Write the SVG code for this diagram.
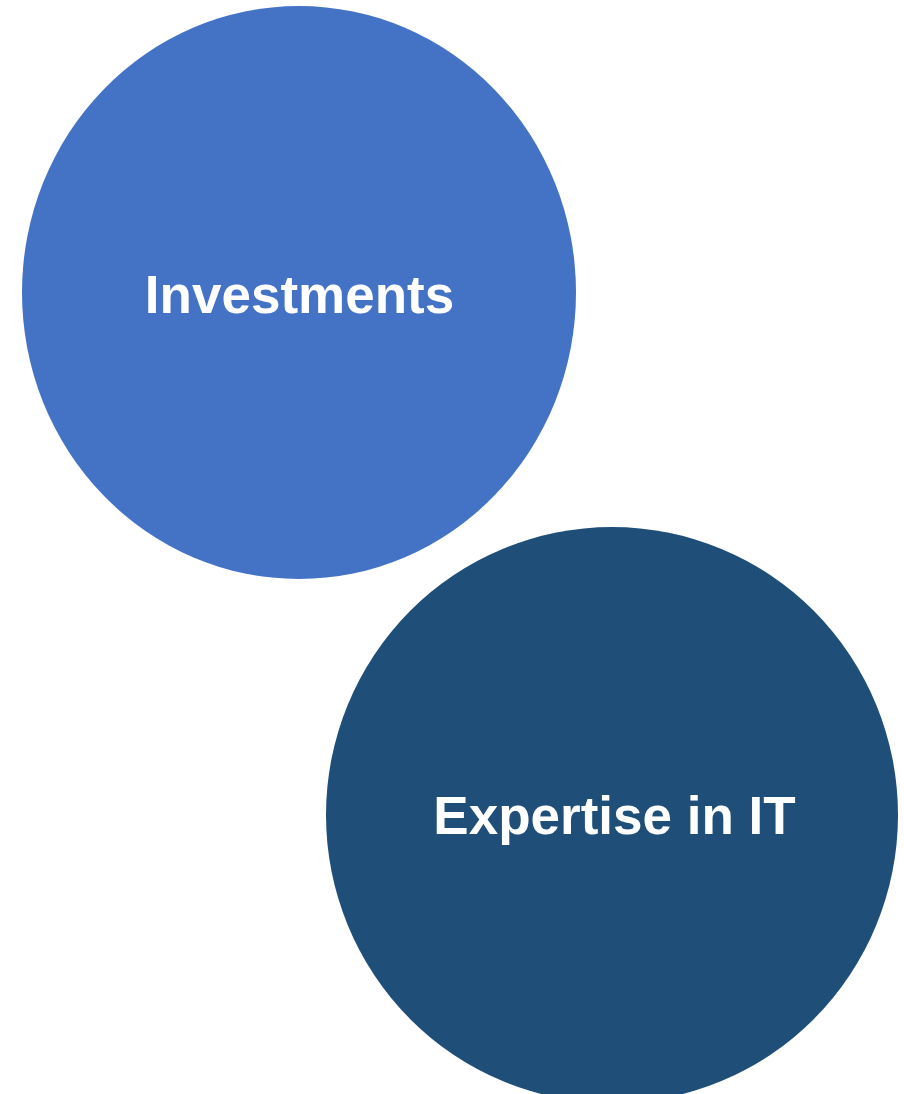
<svg xmlns="http://www.w3.org/2000/svg" width="904" height="1094" viewBox="0 0 904 1094">
<style>
.lbl{font-family:"Liberation Sans",Arial,sans-serif;font-weight:bold;font-size:53px;fill:#FFFFFF;text-anchor:middle}
</style>
<rect width="904" height="1094" fill="#FFFFFF"/>
<g id="connectors"></g>
<g id="node-investments">
<ellipse cx="299" cy="292.5" rx="277" ry="286.5" fill="#4472C4"/>
<text class="lbl" x="299.5" y="313">Investments</text>
</g>
<g id="node-expertise">
<ellipse cx="612" cy="815" rx="286" ry="288" fill="#1F4E79"/>
<text class="lbl" x="614.5" y="834">Expertise in IT</text>
</g>
</svg>
